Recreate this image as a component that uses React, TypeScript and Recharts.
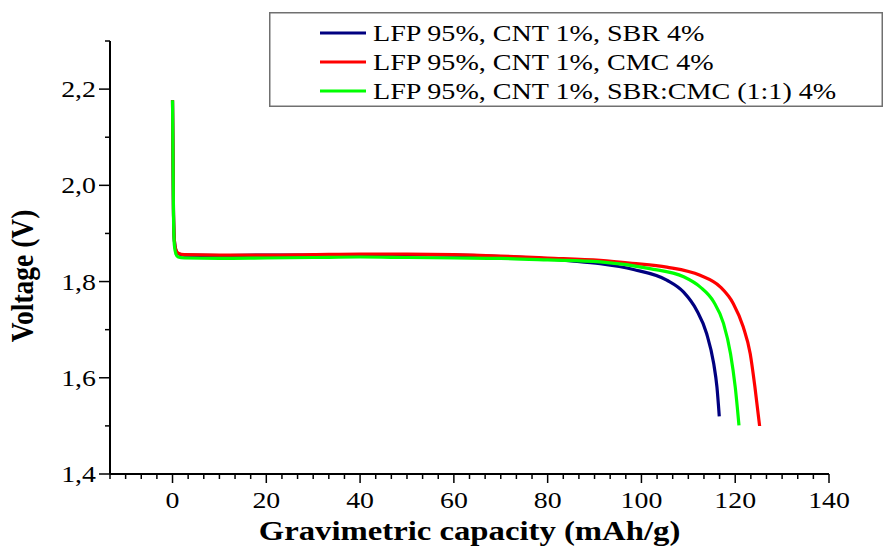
import { LineChart, Line, XAxis, YAxis, Legend } from 'recharts'

// gravimetric capacity (mAh/g) and voltage (V) per electrode formulation
const capSbr = [0, 0.2, 0.4, 0.7, 1.2, 2.5, 10, 20, 30, 40, 50, 60, 70, 80, 85, 91.2, 98.3, 105.4, 109, 111.8, 113.9, 115.4, 116.1, 116.6]
const voltSbr = [2.177, 1.95, 1.885, 1.866, 1.858, 1.855, 1.854, 1.855, 1.855, 1.856, 1.856, 1.855, 1.852, 1.847, 1.843, 1.837, 1.825, 1.803, 1.778, 1.74, 1.692, 1.63, 1.581, 1.52]

const capCmc = [0, 0.2, 0.4, 0.7, 1.2, 2.5, 10, 20, 30, 40, 50, 60, 70, 80, 91.2, 98, 105.4, 112.5, 116.8, 119.6, 121.7, 123.2, 124.2, 125.2]
const voltCmc = [2.177, 1.95, 1.885, 1.866, 1.859, 1.856, 1.855, 1.855, 1.856, 1.857, 1.857, 1.856, 1.853, 1.849, 1.844, 1.838, 1.83, 1.813, 1.789, 1.754, 1.706, 1.65, 1.581, 1.5]

const capMix = [0, 0.2, 0.4, 0.7, 1.2, 2.5, 10, 20, 30, 40, 50, 60, 70, 80, 91.2, 101.8, 109, 112.5, 115.4, 117.5, 119, 120, 120.8]
const voltMix = [2.177, 1.94, 1.875, 1.858, 1.851, 1.849, 1.848, 1.849, 1.85, 1.851, 1.85, 1.849, 1.848, 1.845, 1.841, 1.827, 1.81, 1.789, 1.758, 1.713, 1.65, 1.581, 1.501]

const seriesNames = [
  'LFP 95%, CNT 1%, SBR 4%',
  'LFP 95%, CNT 1%, CMC 4%',
  'LFP 95%, CNT 1%, SBR:CMC (1:1) 4%',
]
const seriesColors = ['#000080', '#ff0000', '#00ff00']

const xTicks = [-40 / 3, -10, -20 / 3, -10 / 3, 0, 10 / 3, 20 / 3, 10, 40 / 3, 50 / 3, 20, 70 / 3, 80 / 3, 30, 100 / 3, 110 / 3, 40, 130 / 3, 140 / 3, 50, 160 / 3, 170 / 3, 60, 190 / 3, 200 / 3, 70, 220 / 3, 230 / 3, 80, 250 / 3, 260 / 3, 90, 280 / 3, 290 / 3, 100, 310 / 3, 320 / 3, 110, 340 / 3, 350 / 3, 120, 370 / 3, 380 / 3, 130, 400 / 3, 410 / 3, 140]
const yTicks = [1.4, 1.5, 1.6, 1.7, 1.8, 1.9, 2.0, 2.1, 2.2, 2.3]

const toPoints = (xs: number[], ys: number[]) => xs.map((x, i) => ({ x, v: ys[i] }))
const series = [toPoints(capSbr, voltSbr), toPoints(capCmc, voltCmc), toPoints(capMix, voltMix)]

const FONT = '"Liberation Serif", "Times New Roman", serif'
const STRETCH = 1.16

const XTick = (props: any) => {
  const { x, y, payload } = props
  const v = payload.value
  const major = Math.abs(v / 20 - Math.round(v / 20)) < 1e-6
  return (
    <g>
      <line x1={x} y1={y} x2={x} y2={y + (major ? 9 : 5)} stroke="#000" strokeWidth={1.5} />
      {major && (
        <text transform={`translate(${x},${y + 34}) scale(${STRETCH},1)`} textAnchor="middle" fontFamily={FONT} fontSize={24} fill="#000">
          {Math.round(v)}
        </text>
      )}
    </g>
  )
}

const YTick = (props: any) => {
  const { x, y, payload } = props
  const v = payload.value
  const major = Math.round(v * 10) % 2 === 0
  return (
    <g>
      <line x1={x - (major ? 11 : 5)} y1={y} x2={x} y2={y} stroke="#000" strokeWidth={1.5} />
      {major && (
        <text transform={`translate(${x - 14},${y + 8}) scale(${STRETCH},1)`} textAnchor="end" fontFamily={FONT} fontSize={24} fill="#000">
          {v.toFixed(1).replace('.', ',')}
        </text>
      )}
    </g>
  )
}

const LegendBox = () => (
  <svg width={614} height={95} style={{ display: 'block' }}>
    <rect x={0.75} y={0.75} width={612.5} height={93.5} fill="#fff" stroke="#707070" strokeWidth={1.5} />
    {seriesNames.map((name, i) => (
      <g key={name}>
        <line x1={51} x2={97} y1={21 + i * 29} y2={21 + i * 29} stroke={seriesColors[i]} strokeWidth={3} />
        <text transform={`translate(104,${29 + i * 29}) scale(1.18,1)`} fontFamily={FONT} fontSize={23.8} fill="#000">
          {name}
        </text>
      </g>
    ))}
  </svg>
)

export default function App() {
  return (
    <div style={{ position: 'absolute', left: 0, top: 0, width: 887, height: 546, background: '#fff' }}>
      <LineChart width={887} height={546} margin={{ top: 41, right: 58, bottom: 0, left: 0 }}>
        <XAxis
          type="number"
          dataKey="x"
          domain={[-40 / 3, 140]}
          ticks={xTicks}
          interval={0}
          allowDataOverflow
          height={72}
          tickSize={0}
          tickMargin={0}
          tickLine={false}
          axisLine={{ stroke: '#000', strokeWidth: 2 }}
          tick={<XTick />}
          label={{
            content: () => (
              <text transform="translate(469.5,540) scale(1.19,1)" textAnchor="middle" fontFamily={FONT} fontSize={27.5} fontWeight="bold" fill="#000">
                Gravimetric capacity (mAh/g)
              </text>
            ),
          }}
        />
        <YAxis
          type="number"
          domain={[1.4, 2.3]}
          ticks={yTicks}
          interval={0}
          allowDataOverflow
          width={110}
          tickSize={0}
          tickMargin={0}
          tickLine={false}
          axisLine={{ stroke: '#000', strokeWidth: 2 }}
          tick={<YTick />}
          label={{
            content: () => (
              <text transform={`translate(33,276) scale(${STRETCH},1) rotate(-90)`} textAnchor="middle" fontFamily={FONT} fontSize={27.5} fontWeight="bold" fill="#000">
                Voltage (V)
              </text>
            ),
          }}
        />
        <Legend
          layout="horizontal"
          verticalAlign="middle"
          align="center"
          wrapperStyle={{ position: 'absolute', top: 12, left: 269, width: 614, height: 95 }}
          content={() => <LegendBox />}
        />
        {series.map((data, i) => (
          <Line
            key={seriesNames[i]}
            data={data}
            dataKey="v"
            name={seriesNames[i]}
            type="monotone"
            stroke={seriesColors[i]}
            strokeWidth={3.2}
            dot={false}
            isAnimationActive={false}
          />
        ))}
      </LineChart>
    </div>
  )
}
